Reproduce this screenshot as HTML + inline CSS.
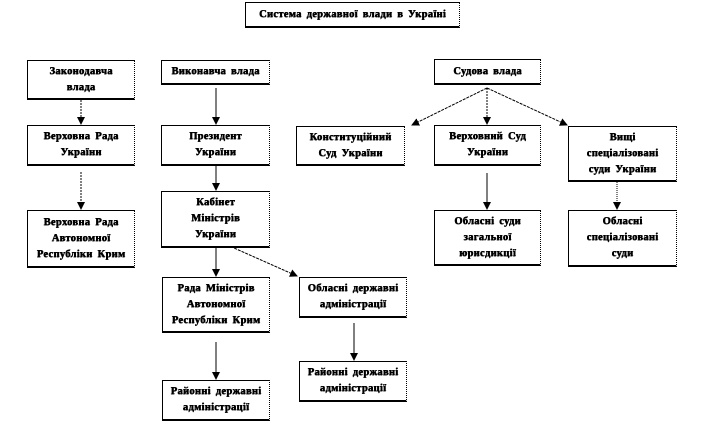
<!DOCTYPE html>
<html><head><meta charset="utf-8"><style>
body{margin:0;width:703px;height:424px;background:#fff;position:relative;overflow:hidden;font-family:"Liberation Serif",serif;}
.b{position:absolute;box-sizing:border-box;border:1px solid #000;border-right:1px dotted #000;border-bottom:2px solid #000;background:#fff;display:flex;align-items:center;justify-content:center;text-align:center;font-weight:bold;font-size:10.5px;line-height:16px;color:#000;text-shadow:0.5px 0 0 #000,0 0.4px 0 #222;letter-spacing:0.3px;word-spacing:2px;}
svg{position:absolute;left:0;top:0;}
</style></head><body>
<svg width="703" height="424">
<defs><marker id="a" markerWidth="8" markerHeight="8" refX="7" refY="4" orient="auto" markerUnits="userSpaceOnUse"><path d="M0,0 L8,4 L0,8 Z" fill="#000"/></marker></defs>
<g stroke="#000" stroke-width="1" fill="none" marker-end="url(#a)">
<line x1="81" y1="100" x2="81" y2="124" stroke-dasharray="2,1"/>
<line x1="81" y1="172" x2="81" y2="209" stroke-dasharray="2,1"/>
<line x1="216" y1="88" x2="216" y2="124"/>
<line x1="216" y1="166" x2="216" y2="190"/>
<line x1="216" y1="247" x2="216" y2="276"/>
<line x1="216" y1="342" x2="216" y2="379"/>
<line x1="216" y1="240" x2="297" y2="276" stroke-dasharray="3,1"/>
<line x1="354" y1="323" x2="354" y2="360"/>
<line x1="487" y1="88" x2="412" y2="125" stroke-dasharray="3,1"/>
<line x1="487" y1="88" x2="487" y2="124" stroke-dasharray="2,1"/>
<line x1="487" y1="88" x2="567" y2="125" stroke-dasharray="3,1"/>
<line x1="487" y1="173" x2="487" y2="209"/>
<line x1="617" y1="182" x2="617" y2="209" stroke-dasharray="1,1"/>
</g>
</svg>
<div class="b" style="left:245px;top:2px;width:215px;height:26px;">Система державної влади в Україні</div>
<div class="b" style="left:27px;top:60px;width:108px;height:40px;">Законодавча<br>влада</div>
<div class="b" style="left:27px;top:125px;width:108px;height:41px;">Верховна Рада<br>України</div>
<div class="b" style="left:27px;top:210px;width:108px;height:58px;">Верховна Рада<br>Автономної<br>Республіки Крим</div>
<div class="b" style="left:161px;top:60px;width:109px;height:25px;">Виконавча влада</div>
<div class="b" style="left:161px;top:125px;width:109px;height:41px;">Президент<br>України</div>
<div class="b" style="left:161px;top:191px;width:109px;height:57px;">Кабінет<br>Міністрів<br>України</div>
<div class="b" style="left:162px;top:277px;width:108px;height:56px;">Рада Міністрів<br>Автономної<br>Республіки Крим</div>
<div class="b" style="left:162px;top:380px;width:108px;height:41px;">Районні державні<br>адміністрації</div>
<div class="b" style="left:299px;top:277px;width:108px;height:41px;">Обласні державні<br>адміністрації</div>
<div class="b" style="left:299px;top:361px;width:108px;height:41px;">Районні державні<br>адміністрації</div>
<div class="b" style="left:434px;top:59px;width:107px;height:26px;">Судова влада</div>
<div class="b" style="left:296px;top:126px;width:109px;height:40px;">Конституційний<br>Суд України</div>
<div class="b" style="left:434px;top:125px;width:107px;height:41px;">Верховний Суд<br>України</div>
<div class="b" style="left:568px;top:126px;width:109px;height:56px;">Вищі<br>спеціалізовані<br>суди України</div>
<div class="b" style="left:434px;top:210px;width:107px;height:56px;">Обласні суди<br>загальної<br>юрисдикції</div>
<div class="b" style="left:568px;top:210px;width:109px;height:57px;">Обласні<br>спеціалізовані<br>суди</div>
</body></html>
